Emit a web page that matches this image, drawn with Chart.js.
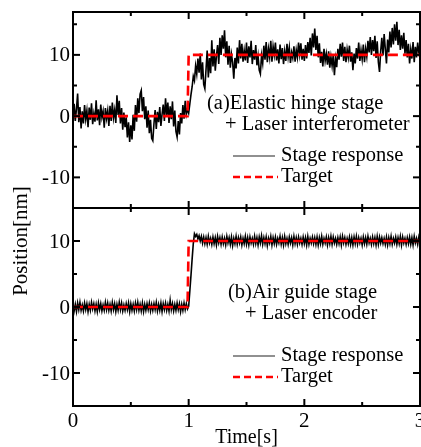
<!DOCTYPE html>
<html><head><meta charset="utf-8">
<script src="https://cdn.jsdelivr.net/npm/chart.js@4.4.1/dist/chart.umd.min.js"></script>
<style>
html,body{margin:0;padding:0;background:#fff;}
#wrap{position:relative;width:421px;height:447px;overflow:hidden;background:#fff;}
canvas{position:absolute;left:0;top:0;}
</style></head><body>
<div id="wrap"><canvas id="a" width="421" height="447"></canvas><canvas id="b" width="421" height="447"></canvas></div>
<script>
// ---------- data ----------
const sampleStep = 0.01; // s
const xTickLabels = ['0', '1', '2', '3'];
const xMajorTicks = [0, 1, 2, 3];
const xMinorTicks = [0.5, 1.5, 2.5];
const yTickLabels = ['10', '0', '-10'];
const yMajorTicks = [10, 0, -10];
const yMinorTicks = [15, 5, -5, -15];

const targetTime = [0, 0.99, 1.0, 3.0];
const targetValue = [0, 0, 10, 10];

// (a) Elastic hinge stage + Laser interferometer
const responseA = [
 -1.5, 2.0, -0.8, 1.2, 3.7, -1.0, 1.5, -2.0, 0.8, -1.2,
 1.8, -0.5, 0.9, -1.8, 1.4, -0.6, 2.1, -1.3, 0.4, -0.9,
 2.6, -0.7, 1.1, -1.5, 1.9, -0.2, 0.8, -1.9, 1.3, -0.4,
 0.9, -1.6, 1.7, -0.8, 2.2, -0.3, 1.0, -1.1, 3.4, 0.2,
 2.5, -1.2, 1.3, -2.2, 0.6, -1.8, -0.2, -3.5, -1.0, -4.2,
 -1.5, -3.8, 0.2, -2.4, 1.8, -0.9, 2.9, 0.5, 3.6, 4.2,
 0.8, 3.1, -0.5, 1.6, -1.9, 0.9, -2.8, -0.6, -3.6, -4.0,
 -1.2, 1.0, -2.1, 0.7, -1.0, 1.5, -1.6, 0.3, 1.9, -0.8,
 2.9, 0.1, 2.2, -1.1, 1.6, -0.5, 2.4, -1.7, 0.9, -2.5,
 -3.4, -0.8, -3.0, 0.5, -1.2, 1.8, -0.4, 2.5, 0.3, 1.2,
 0.5, 2.0, 3.5, 4.8, 6.5, 5.8, 8.2, 6.9, 9.4, 7.1,
 10.2, 6.0, 8.8, 5.2, 4.5, 7.6, 10.7, 6.3, 9.5, 7.0,
 12.4, 8.1, 10.9, 7.4, 9.8, 11.6, 8.5, 12.8, 10.0, 13.2,
 11.0, 14.0, 9.6, 12.2, 8.4, 11.5, 7.9, 10.1, 8.8, 6.1,
 9.5, 7.8, 11.2, 8.6, 12.4, 9.4, 11.8, 8.9, 10.7, 9.1,
 12.0, 8.7, 11.4, 9.6, 12.3, 8.5, 10.8, 9.2, 11.6, 8.3,
 9.8, 7.5, 6.9, 9.9, 8.6, 11.5, 9.2, 12.1, 8.8, 11.0,
 9.6, 12.3, 8.9, 11.4, 10.0, 12.0, 9.1, 10.9, 8.6, 11.7,
 9.3, 11.1, 8.5, 10.6, 9.0, 11.8, 9.7, 11.2, 8.7, 10.4,
 9.5, 11.4, 8.9, 10.8, 9.6, 12.0, 10.1, 11.9, 9.2, 11.0,
 9.0, 11.6, 9.4, 12.1, 10.3, 12.8, 9.9, 13.5, 11.2, 14.3,
 10.8, 13.1, 9.6, 11.9, 8.7, 10.5, 8.1, 11.0, 9.0, 10.2,
 8.4, 10.6, 7.9, 9.7, 8.2, 10.1, 6.7, 9.4, 8.0, 11.0,
 9.2, 11.8, 9.7, 12.0, 9.0, 11.3, 8.8, 10.9, 9.6, 11.5,
 8.9, 10.4, 7.5, 10.2, 8.6, 11.1, 9.4, 12.0, 9.0, 10.8,
 9.3, 11.7, 8.8, 11.0, 9.7, 12.3, 10.4, 12.9, 10.0, 12.4,
 10.6, 13.1, 9.5, 12.2, 8.8, 7.2, 10.6, 12.8, 9.9, 13.4,
 11.0, 8.6, 12.5, 10.4, 13.8, 11.2, 14.4, 11.7, 15.0, 12.3,
 15.4, 11.6, 14.1, 10.8, 13.2, 11.0, 13.6, 10.2, 12.4, 9.6,
 11.8, 8.6, 10.9, 9.4, 12.1, 8.8, 11.3, 9.6, 12.0, 10.4,
 11.2
];

// (b) Air guide stage + Laser encoder
const responseB = [
 0.5,-0.6,0.4,-0.7,0.6,-0.4,0.7,-0.5,0.3,-0.6,
 0.6,-0.4,0.5,-0.7,0.4,-0.5,0.7,-0.3,0.5,-0.6,
 0.4,-0.7,0.6,-0.4,0.5,-0.6,0.3,-0.5,0.7,-0.4,
 0.6,-0.5,0.4,-0.6,0.7,-0.4,0.5,-0.7,0.4,-0.5,
 0.7,-0.4,0.6,-0.6,0.3,-0.5,0.5,-0.4,0.6,-0.7,
 0.5,-0.5,0.4,-0.6,0.6,-0.4,0.7,-0.5,0.4,-0.6,
 0.6,-0.7,0.4,-0.5,0.5,-0.4,0.6,-0.6,0.4,-0.5,
 0.5,-0.4,0.7,-0.6,0.4,-0.5,0.6,-0.7,0.5,-0.4,
 0.6,-0.5,0.4,-0.6,1.0,-0.4,0.5,-0.6,0.4,-0.5,
 0.6,-0.4,0.5,-0.7,0.4,-0.5,0.6,-0.4,0.5,-0.3,
 0.1,2.4,4.8,7.3,9.6,11.1,10.7,11.0,10.3,10.8,
 10.0,10.7,9.7,10.6,9.6,10.5,9.5,10.7,9.7,10.4,
 9.5,10.6,9.6,10.5,9.4,10.7,9.7,10.5,9.5,10.6,
 9.6,10.4,9.4,10.7,9.7,10.5,9.5,10.6,9.3,10.4,
 9.6,10.7,9.5,10.5,9.7,10.6,9.4,10.4,9.6,10.7,
 9.5,10.5,9.4,10.6,9.7,10.4,9.5,10.7,9.6,10.5,
 9.4,10.6,9.7,10.8,9.5,10.5,9.6,10.6,9.3,10.4,
 9.7,10.7,9.4,10.5,9.6,10.6,9.5,10.4,9.7,10.7,
 9.5,10.5,9.4,10.7,9.6,10.4,9.5,10.6,9.7,10.5,
 9.4,10.7,9.6,10.5,9.5,10.6,9.7,10.4,9.5,10.6,
 9.6,10.5,9.4,10.7,9.5,10.4,9.7,10.6,9.6,10.5,
 9.5,10.6,9.4,10.5,9.6,10.7,9.5,10.4,9.7,10.6,
 9.4,10.5,9.6,10.7,9.5,10.6,9.7,10.4,9.5,10.5,
 9.6,10.6,9.4,10.7,9.7,10.5,9.5,10.4,9.6,10.6,
 9.5,10.5,9.4,10.6,9.6,10.7,9.5,10.5,9.7,10.4,
 9.4,10.6,9.6,10.5,9.5,10.7,9.7,10.4,9.5,10.6,
 9.6,10.5,9.4,10.7,9.5,10.6,9.7,10.5,9.6,10.4,
 9.5,10.6,9.4,10.5,9.6,10.7,9.5,10.4,9.7,10.6,
 9.5,10.5,9.6,10.7,9.4,10.6,9.7,10.4,9.5,10.5,
 9.6,10.6,9.5,10.5,9.4,10.7,9.7,10.4,9.5,10.6,
 9.9
];

const panelTitlesA = ['(a)Elastic hinge stage', '+ Laser interferometer'];
const panelTitlesB = ['(b)Air guide stage', '+ Laser encoder'];
const legendLabels = ['Stage response', 'Target'];
const xTitle = 'Time[s]';
const yTitle = 'Position[nm]';

// ---------- helpers ----------
const FONT = '"Liberation Serif", "Times New Roman", serif';
const toPts = (vals) => vals.map((v, i) => ({x: i * sampleStep, y: v}));
const targetPts = targetTime.map((t, i) => ({x: t, y: targetValue[i]}));

function panelPlugin(opt) {
  return {
    id: 'panel' + opt.name,
    afterDraw(chart) {
      const {ctx, chartArea: ca, scales: {x, y}} = chart;
      ctx.save();
      ctx.strokeStyle = '#000';
      ctx.lineWidth = 2;
      ctx.strokeRect(ca.left, ca.top, ca.right - ca.left, ca.bottom - ca.top);
      const seg = (x1, y1, x2, y2) => { ctx.beginPath(); ctx.moveTo(x1, y1); ctx.lineTo(x2, y2); ctx.stroke(); };
      const MAJ = 7, MIN = 4;
      yMajorTicks.forEach(v => { const p = y.getPixelForValue(v); if (p > ca.top + 1 && p < ca.bottom - 1) { seg(ca.left, p, ca.left + MAJ, p); seg(ca.right, p, ca.right - MAJ, p); } });
      yMinorTicks.forEach(v => { const p = y.getPixelForValue(v); if (p > ca.top + 1 && p < ca.bottom - 1) { seg(ca.left, p, ca.left + MIN, p); seg(ca.right, p, ca.right - MIN, p); } });
      xMajorTicks.forEach(v => { const p = x.getPixelForValue(v); if (p > ca.left + 1 && p < ca.right - 1) { seg(p, ca.bottom, p, ca.bottom - MAJ); seg(p, ca.top, p, ca.top + MAJ); } });
      xMinorTicks.forEach(v => { const p = x.getPixelForValue(v); seg(p, ca.bottom, p, ca.bottom - MIN); seg(p, ca.top, p, ca.top + MIN); });
      // y tick labels
      ctx.fillStyle = '#000';
      ctx.font = '21px ' + FONT;
      ctx.textAlign = 'right';
      ctx.textBaseline = 'middle';
      yMajorTicks.forEach((v, i) => ctx.fillText(yTickLabels[i], ca.left - 3, y.getPixelForValue(v) + 1));
      // panel texts
      ctx.font = '20.5px ' + FONT;
      ctx.textAlign = 'left';
      ctx.fillText(opt.titles[0], opt.t1x, opt.t1y);
      ctx.fillText(opt.titles[1], opt.t2x, opt.t2y);
      // legend
      ctx.strokeStyle = '#222'; ctx.lineWidth = 1.2;
      seg(233, opt.l1y, 275, opt.l1y);
      ctx.strokeStyle = '#ff0000'; ctx.lineWidth = 2.5; ctx.setLineDash([7, 4]);
      seg(233, opt.l2y, 278, opt.l2y);
      ctx.setLineDash([]);
      ctx.fillText(legendLabels[0], 281, opt.l1y);
      ctx.fillText(legendLabels[1], 281, opt.l2y);
      if (opt.bottom) {
        ctx.font = '21px ' + FONT;
        ctx.textAlign = 'center';
        xMajorTicks.forEach((v, i) => ctx.fillText(xTickLabels[i], x.getPixelForValue(v), 421));
        ctx.font = '20px ' + FONT;
        ctx.fillText(xTitle, (ca.left + ca.right) / 2, 438);
        ctx.font = '21px ' + FONT;
        ctx.translate(21, 241);
        ctx.rotate(-Math.PI / 2);
        ctx.fillText(yTitle, 0, 0);
      }
      ctx.restore();
    }
  };
}

function makeChart(id, resp, yMin, yMax, pad, lw, opt) {
  return new Chart(document.getElementById(id), {
    type: 'line',
    data: {
      datasets: [
        {data: targetPts, borderColor: '#ff0000', borderWidth: 2.6, borderDash: [10, 5], pointRadius: 0, order: 0},
        {data: toPts(resp), borderColor: '#000', borderWidth: lw, pointRadius: 0, order: 1}
      ]
    },
    options: {
      responsive: false, animation: false, events: [],
      layout: {padding: pad},
      elements: {line: {tension: 0}},
      plugins: {legend: {display: false}, tooltip: {enabled: false}},
      scales: {
        x: {type: 'linear', min: 0, max: 3, display: false},
        y: {type: 'linear', min: yMin, max: yMax, display: false}
      }
    },
    plugins: [panelPlugin(opt)]
  });
}

makeChart('a', responseA, -15, 17, {left: 73, right: 1, top: 12, bottom: 239}, 1.6,
  {name: 'A', titles: panelTitlesA, t1x: 207, t1y: 104, t2x: 225, t2y: 125, l1y: 156, l2y: 177, bottom: false});
makeChart('b', responseB, -15, 15, {left: 73, right: 1, top: 208, bottom: 41}, 1.6,
  {name: 'B', titles: panelTitlesB, t1x: 228, t1y: 293, t2x: 245, t2y: 314, l1y: 356, l2y: 377, bottom: true});
</script></body></html>
